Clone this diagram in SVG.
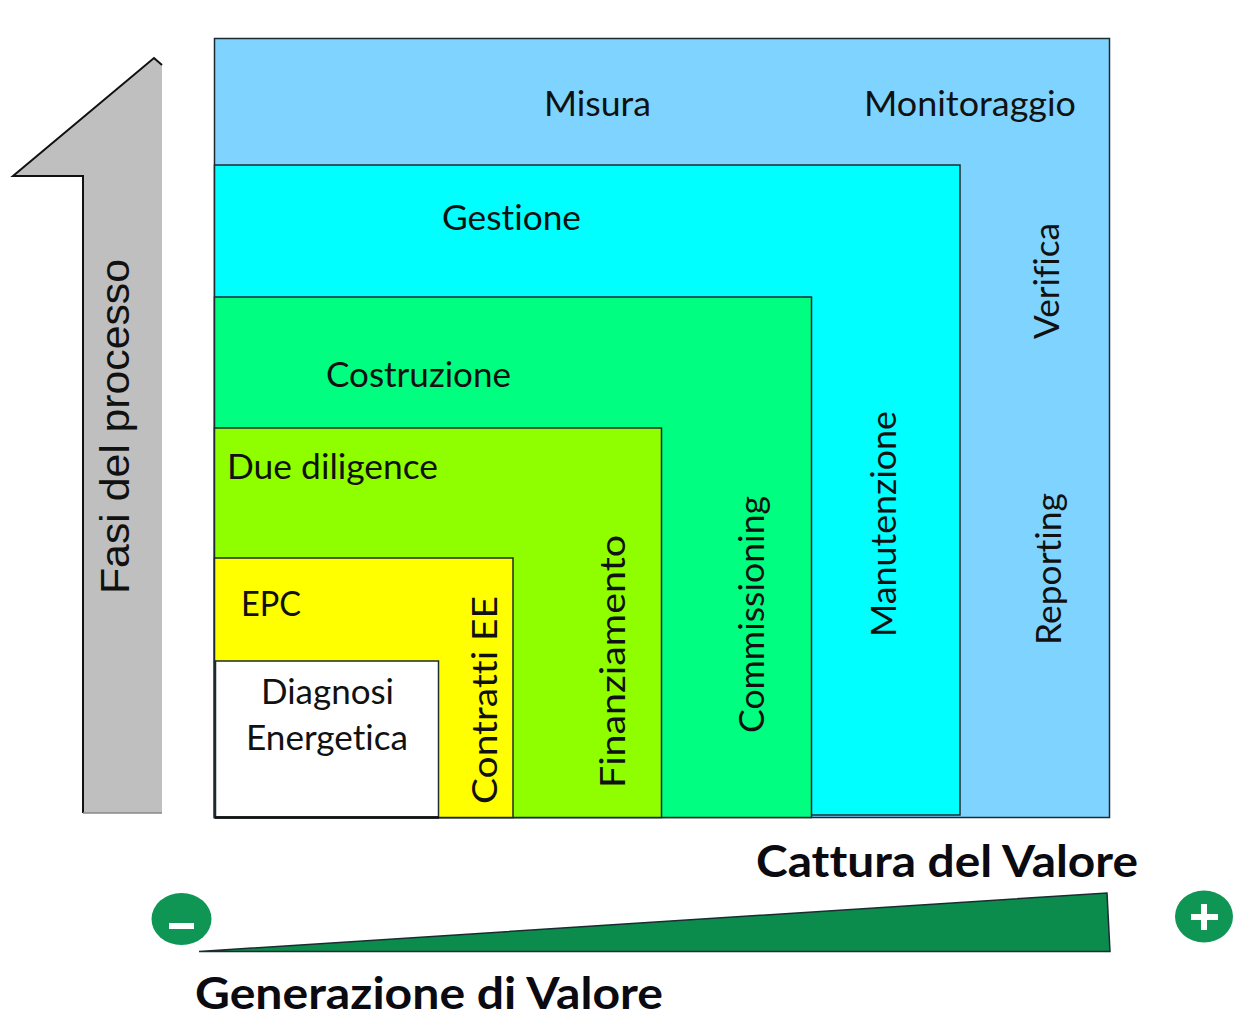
<svg xmlns="http://www.w3.org/2000/svg" width="1233" height="1013" viewBox="0 0 1233 1013">
<style>
.box{stroke:#1c2b33;stroke-width:1.5}
.t{font-family:Lato,"Open Sans",sans-serif;font-size:34px;fill:#111;font-variant-ligatures:none}
.b{font-family:Lato,"Open Sans",sans-serif;font-size:43px;font-weight:700;fill:#0a0a10;font-variant-ligatures:none}
.a{font-family:"Liberation Sans",Arial,sans-serif;font-size:41px;fill:#111}
</style>
<rect width="1233" height="1013" fill="#fff"/>
<g id="freccia-fasi">
<path d="M83 813V176H13L154 58L162 65V813Z" fill="#bfbfbf"/>
<path d="M83 813V176H13L154 58L162 65" fill="none" stroke="#111" stroke-width="2"/>
<path d="M83 813H162" stroke="#888" stroke-width="1.5"/>
<text class="a" transform="translate(129 594) rotate(-90)" textLength="335" lengthAdjust="spacingAndGlyphs">Fasi del processo</text>
</g>
<g id="misura">
<rect class="box" x="214.500" y="38.500" width="895" height="779" fill="#7fd4ff"/>
<text class="t" x="544" y="116" textLength="107" lengthAdjust="spacingAndGlyphs">Misura</text>
<text class="t" x="864" y="116" textLength="212" lengthAdjust="spacingAndGlyphs">Monitoraggio</text>
<text class="t" transform="translate(1059 339) rotate(-90)" textLength="116" lengthAdjust="spacingAndGlyphs">Verifica</text>
<text class="t" transform="translate(1061 645) rotate(-90)" textLength="152" lengthAdjust="spacingAndGlyphs">Reporting</text>
</g>
<g id="gestione">
<rect class="box" x="214.500" y="165" width="745.500" height="650" fill="#00ffff"/>
<text class="t" x="442" y="230" textLength="139" lengthAdjust="spacingAndGlyphs">Gestione</text>
<text class="t" transform="translate(896 637) rotate(-90)" textLength="226" lengthAdjust="spacingAndGlyphs">Manutenzione</text>
</g>
<g id="costruzione">
<rect class="box" x="214.500" y="297" width="597" height="520.500" fill="#00ff80"/>
<text class="t" x="326" y="387" textLength="185" lengthAdjust="spacingAndGlyphs">Costruzione</text>
<text class="t" transform="translate(764 733) rotate(-90)" textLength="237" lengthAdjust="spacingAndGlyphs">Commissioning</text>
</g>
<g id="due-diligence">
<rect class="box" x="214.500" y="428" width="447" height="389.500" fill="#8fff00"/>
<text class="t" x="227" y="479" textLength="211" lengthAdjust="spacingAndGlyphs">Due diligence</text>
<text class="t" transform="translate(625 788) rotate(-90)" textLength="253" lengthAdjust="spacingAndGlyphs">Finanziamento</text>
</g>
<g id="contratti">
<rect class="box" x="214.500" y="558" width="298.500" height="259.500" fill="#ffff00"/>
<text class="t" x="241" y="616" textLength="60" lengthAdjust="spacingAndGlyphs">EPC</text>
<text class="t" transform="translate(497 804) rotate(-90)" textLength="208" lengthAdjust="spacingAndGlyphs">Contratti EE</text>
</g>
<g id="diagnosi">
<rect x="215.500" y="661" width="223" height="156" fill="#fff" stroke="#1c2b33" stroke-width="1.500"/>
<path d="M215 817.500H439" stroke="#111" stroke-width="2.500"/>
<text class="t" x="261" y="704" textLength="133" lengthAdjust="spacingAndGlyphs">Diagnosi</text>
<text class="t" x="246" y="750" textLength="162" lengthAdjust="spacingAndGlyphs">Energetica</text>
</g>
<g id="valore">
<path d="M199 951.500L1107 893L1110 951.500Z" fill="#0b8c4c" stroke="#1c2b33" stroke-width="1.500"/>
<text class="b" x="756" y="877" textLength="382" lengthAdjust="spacingAndGlyphs">Cattura del Valore</text>
<text class="b" x="195" y="1009" textLength="468" lengthAdjust="spacingAndGlyphs">Generazione di Valore</text>
</g>
<g id="meno">
<ellipse cx="181.500" cy="919" rx="30" ry="26" fill="#0f9655"/>
<rect x="169" y="923" width="25" height="6" fill="#fff"/>
</g>
<g id="piu">
<ellipse cx="1204" cy="916.500" rx="29" ry="26" fill="#0f9655"/>
<path d="M1204 904V930M1191 917H1218" stroke="#fff" stroke-width="6"/>
</g>
</svg>
